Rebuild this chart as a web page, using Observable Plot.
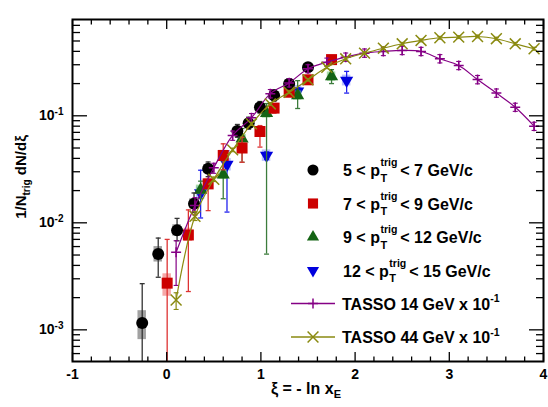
<!DOCTYPE html>
<html><head><meta charset="utf-8">
<script src="https://cdn.jsdelivr.net/npm/d3@7"></script>
<script src="https://cdn.jsdelivr.net/npm/@observablehq/plot@0.6"></script>
<style>
body{margin:0;background:#fff;}
#chart{width:548px;height:407px;}
svg{font-family:"Liberation Sans",Arial,Helvetica,sans-serif;font-weight:bold;}
</style></head><body><div id="chart"></div>
<script>
// ---------- data ----------
const xiBlack = [-0.26, -0.09, 0.11, 0.29, 0.44, 0.75, 0.87, 0.99, 1.14, 1.30, 1.50];
const valBlack = [0.00116, 0.0051, 0.0085, 0.0151, 0.032, 0.072, 0.085, 0.12, 0.155, 0.199, 0.284];
const statLoBlack = [0.0001, 0.0031, 0.0068, 0.0125, 0.027, 0.063, 0.075, 0.106, 0.137, 0.18, 0.26];
const statHiBlack = [0.0027, 0.0072, 0.011, 0.019, 0.037, 0.083, 0.097, 0.136, 0.175, 0.22, 0.31];
const sysLoBlack = [0.00081, 0.0043, 0.0075, 0.0135, 0.029, 0.066, 0.078, 0.11, 0.142, 0.183, 0.262];
const sysHiBlack = [0.00151, 0.0060, 0.0096, 0.0168, 0.035, 0.078, 0.092, 0.13, 0.168, 0.215, 0.306];

const xiRed = [0.005, 0.23, 0.44, 0.60, 0.80, 0.99, 1.14, 1.30, 1.50, 1.75];
const valRed = [0.00273, 0.0077, 0.0231, 0.0426, 0.050, 0.0713, 0.118, 0.166, 0.217, 0.335];
const statLoRed = [0.0001, 0.00228, 0.013, 0.0313, 0.0368, 0.051, 0.106, 0.153, 0.203, 0.315];
const statHiRed = [0.0070, 0.0132, 0.033, 0.0547, 0.063, 0.081, 0.13, 0.18, 0.232, 0.356];
const sysLoRed = [0.00206, 0.0067, 0.0205, 0.038, 0.045, 0.064, 0.107, 0.15, 0.197, 0.305];
const sysHiRed = [0.00334, 0.0089, 0.026, 0.0475, 0.056, 0.079, 0.13, 0.183, 0.238, 0.368];

const xiGreen = [0.36, 0.60, 0.80, 1.06, 1.39, 1.75];
const valGreen = [0.0203, 0.0282, 0.061, 0.106, 0.155, 0.233];
const statLoGreen = [0.0168, 0.0168, 0.0368, 0.0051, 0.117, 0.20];
const statHiGreen = [0.0245, 0.038, 0.076, 0.13, 0.213, 0.27];
const sysLoGreen = [0.0183, 0.0254, 0.055, 0.095, 0.14, 0.21];
const sysHiGreen = [0.0225, 0.0312, 0.067, 0.117, 0.171, 0.257];

const xiBlue = [0.36, 0.64, 1.06, 1.39, 1.91];
const valBlue = [0.019, 0.035, 0.0426, 0.169, 0.214];
const statLoBlue = [0.0111, 0.0126, 0.039, 0.155, 0.163];
const statHiBlue = [0.031, 0.047, 0.046, 0.183, 0.26];
const sysLoBlue = [0.0166, 0.0305, 0.0375, 0.148, 0.19];
const sysHiBlue = [0.0216, 0.0398, 0.048, 0.192, 0.24];

const tassoXi = [0.1, 0.3, 0.5, 0.7, 0.9, 1.1, 1.3, 1.5, 1.7, 1.9, 2.1, 2.3, 2.5, 2.7, 2.9, 3.1, 3.3, 3.5, 3.7, 3.9];
const tasso14 = [0.0053, 0.0145, 0.0327, 0.0655, 0.0958, 0.161, 0.203, 0.275, 0.317, 0.353, 0.385, 0.399, 0.408, 0.399, 0.341, 0.295, 0.218, 0.163, 0.120, 0.080];
const tasso14Lo = [0.0026, 0.0118, 0.029, 0.059, 0.087, 0.147, 0.186, 0.252, 0.290, 0.323, 0.352, 0.365, 0.373, 0.365, 0.312, 0.270, 0.199, 0.149, 0.110, 0.073];
const tasso14Hi = [0.0068, 0.0172, 0.036, 0.072, 0.105, 0.176, 0.222, 0.300, 0.346, 0.386, 0.421, 0.436, 0.446, 0.436, 0.373, 0.322, 0.238, 0.178, 0.131, 0.087];
const tasso44 = [0.0019, 0.0115, 0.0255, 0.048, 0.084, 0.129, 0.166, 0.217, 0.284, 0.341, 0.385, 0.428, 0.471, 0.506, 0.536, 0.543, 0.551, 0.525, 0.471, 0.423];
const tasso44Lo = [0.00155, 0.0105, 0.0243, 0.0462, 0.0812, 0.125, 0.161, 0.211, 0.276, 0.331, 0.374, 0.416, 0.457, 0.491, 0.520, 0.527, 0.535, 0.509, 0.457, 0.410];
const tasso44Hi = [0.00222, 0.0127, 0.0268, 0.0498, 0.0868, 0.133, 0.171, 0.223, 0.292, 0.351, 0.396, 0.440, 0.485, 0.521, 0.552, 0.559, 0.567, 0.541, 0.485, 0.436];

const legendBins = [["5", "7"], ["7", "9"], ["9", "12"], ["12", "15"]];
const legendTasso = ["TASSO 14 GeV x 10", "TASSO 44 GeV x 10"];
const xTickValues = [-1, 0, 1, 2, 3, 4];
const yTickValues = [1e-3, 1e-2, 1e-1];
const xDomain = [-1, 4];
const yDomain = [5.06e-4, 0.794];

// ---------- styles ----------
const C = {
  black: {fill: "#000000", err: "#333333", sys: "rgba(110,110,110,0.65)", symbol: "circle", r: 6, rotate: 0},
  red:   {fill: "#cc0000", err: "#dd3333", sys: "rgba(240,110,110,0.6)", symbol: "square", r: 6.2, rotate: 0},
  green: {fill: "#146414", err: "#3c7c3c", sys: "rgba(110,200,110,0.6)", symbol: "triangle", r: 4.9, rotate: 0},
  blue:  {fill: "#0000dd", err: "#2222ee", sys: "rgba(130,140,255,0.55)", symbol: "triangle", r: 4.9, rotate: 180}
};
const purple = "#850085", olive = "#8a8a10";

const rows = (xs, ys, lo, hi, slo, shi) => xs.map((x, i) => ({x, y: ys[i], lo: lo[i], hi: hi[i], slo: slo ? slo[i] : null, shi: shi ? shi[i] : null}));
const sBlack = rows(xiBlack, valBlack, statLoBlack, statHiBlack, sysLoBlack, sysHiBlack);
const sRed = rows(xiRed, valRed, statLoRed, statHiRed, sysLoRed, sysHiRed);
const sGreen = rows(xiGreen, valGreen, statLoGreen, statHiGreen, sysLoGreen, sysHiGreen);
const sBlue = rows(xiBlue, valBlue, statLoBlue, statHiBlue, sysLoBlue, sysHiBlue);
const t14 = rows(tassoXi, tasso14, tasso14Lo, tasso14Hi);
const t44 = rows(tassoXi, tasso44, tasso44Lo, tasso44Hi);

const cap = {draw(ctx) { ctx.moveTo(-2.5, 0); ctx.lineTo(2.5, 0); }};

function seriesMarks(data, st) {
  return [
    Plot.rect(data, {x1: d => d.x - 0.045, x2: d => d.x + 0.045, y1: "slo", y2: "shi", fill: st.sys, clip: true}),
    Plot.ruleX(data, {x: "x", y1: "lo", y2: "hi", stroke: st.err, strokeWidth: 1.3, clip: true}),
    Plot.dot(data, {x: "x", y: "hi", symbol: cap, r: 2, fill: "none", stroke: st.err, strokeWidth: 1.3}),
    Plot.dot(data.filter(d => d.lo >= yDomain[0]), {x: "x", y: "lo", symbol: cap, r: 2, fill: "none", stroke: st.err, strokeWidth: 1.3}),
    Plot.dot(data, {x: "x", y: "y", symbol: st.symbol, r: st.r, rotate: st.rotate, fill: st.fill, stroke: "none"})
  ];
}
function tassoMarks(data, color, symbol, r) {
  return [
    Plot.line(data, {x: "x", y: "y", stroke: color, strokeWidth: 1.2, curve: "catmull-rom"}),
    Plot.ruleX(data, {x: "x", y1: "lo", y2: "hi", stroke: color, strokeWidth: 1.2}),
    Plot.dot(data, {x: "x", y: "hi", symbol: cap, r: 2, fill: "none", stroke: color, strokeWidth: 1.1}),
    Plot.dot(data, {x: "x", y: "lo", symbol: cap, r: 2, fill: "none", stroke: color, strokeWidth: 1.1}),
    Plot.dot(data, {x: "x", y: "y", symbol, r, fill: "none", stroke: color, strokeWidth: 1.5})
  ];
}

const xMinor = d3.range(-10, 41, 2).map(v => v / 10).filter(v => !Number.isInteger(v));
const yMinor = [];
for (let k = -4; k <= -1; k++) for (let m = 2; m <= 9; m++) { const v = m * 10 ** k; if (v >= yDomain[0] && v <= yDomain[1]) yMinor.push(v); }
const none = () => "";

const chart = Plot.plot({
  width: 548, height: 407,
  marginLeft: 72, marginRight: 5, marginTop: 19, marginBottom: 46,
  style: {fontFamily: "Liberation Sans, Arial, sans-serif", fontWeight: "bold", background: "#fff", color: "#000"},
  x: {domain: xDomain, label: null},
  y: {type: "log", domain: yDomain, label: null},
  marks: [
    ...seriesMarks(sBlue, C.blue),
    ...seriesMarks(sGreen, C.green),
    ...seriesMarks(sRed, C.red),
    ...seriesMarks(sBlack, C.black),
    ...tassoMarks(t14, purple, "plus", 3.3),
    ...tassoMarks(t44, olive, "times", 5),
    Plot.axisX({anchor: "bottom", ticks: xTickValues, tickSize: -9, tickFormat: none, strokeWidth: 1.3, label: null}),
    Plot.axisX({anchor: "bottom", ticks: xMinor, tickSize: -4.5, tickFormat: none, strokeWidth: 1.3, label: null}),
    Plot.axisX({anchor: "top", ticks: xTickValues, tickSize: -9, tickFormat: none, strokeWidth: 1.3, label: null}),
    Plot.axisX({anchor: "top", ticks: xMinor, tickSize: -4.5, tickFormat: none, strokeWidth: 1.3, label: null}),
    Plot.axisY({anchor: "left", ticks: yTickValues, tickSize: -15, tickFormat: none, strokeWidth: 1.3, label: null}),
    Plot.axisY({anchor: "left", ticks: yMinor, tickSize: -8, tickFormat: none, strokeWidth: 1.3, label: null}),
    Plot.axisY({anchor: "right", ticks: yTickValues, tickSize: -15, tickFormat: none, strokeWidth: 1.3, label: null}),
    Plot.axisY({anchor: "right", ticks: yMinor, tickSize: -8, tickFormat: none, strokeWidth: 1.3, label: null}),
    Plot.axisX({anchor: "bottom", ticks: xTickValues, tickSize: 0, tickPadding: 8, fontSize: 14, fontWeight: "bold", label: null, tickFormat: d => String(d)}),
    Plot.axisY({anchor: "left", ticks: yTickValues, tickSize: 0, tickPadding: 9, fontSize: 14, fontWeight: "bold", label: null, tickFormat: d => "10^" + Math.round(Math.log10(d))}),
    Plot.frame({stroke: "#000", strokeWidth: 2})
  ]
});
document.getElementById("chart").appendChild(chart);

const svg = d3.select(chart);
// superscript tick labels
svg.selectAll("text").each(function() {
  const t = this.textContent;
  const m = /^10\^(-?\d+)$/.exec(t);
  if (m) {
    const sel = d3.select(this);
    sel.selectAll("*").remove();
    sel.text(null);
    sel.append("tspan").text("10");
    sel.append("tspan").attr("font-size", 10).attr("dy", "-0.55em").text(m[1]);
  }
});

const FONT = "Liberation Sans, Arial, sans-serif";
// axis titles
const xt = svg.append("text").attr("x", 306).attr("y", 394).attr("text-anchor", "middle")
  .attr("font-family", FONT).attr("font-weight", "bold").attr("font-size", 16).attr("fill", "#000");
xt.append("tspan").text("ξ = - ln x");
xt.append("tspan").attr("font-size", 11).attr("dy", 4).text("E");

const yt = svg.append("text").attr("transform", "translate(26,177) rotate(-90)").attr("text-anchor", "middle")
  .attr("font-family", FONT).attr("font-weight", "bold").attr("font-size", 15).attr("fill", "#000");
yt.append("tspan").text("1/N");
yt.append("tspan").attr("font-size", 10).attr("dy", 4).text("trig");
yt.append("tspan").attr("dy", -4).text(" dN/dξ");

// legend
const lg = svg.append("g").attr("font-family", FONT).attr("font-weight", "bold").attr("fill", "#000").attr("text-anchor", "start");
const rowY = [170, 203.5, 237, 270.5, 303.5, 337];
const legStyles = [C.black, C.red, C.green, C.blue];
const markerX = 313;
const LF = 16;
legStyles.forEach((st, i) => {
  const y = rowY[i];
  const sym = d3.symbol(st.symbol === "circle" ? d3.symbolCircle : st.symbol === "square" ? d3.symbolSquare : d3.symbolTriangle, Math.PI * st.r * st.r * 0.85)();
  lg.append("path").attr("d", sym).attr("fill", st.fill).attr("transform", `translate(${markerX},${y}) rotate(${st.rotate})`);
  const base = y + 6;
  const t1 = lg.append("text").attr("x", 343).attr("y", base).attr("font-size", LF).text(`${legendBins[i][0]} < p`);
  const w1 = t1.node().getComputedTextLength();
  const sx = 343 + w1 + 0.5;
  const sup = lg.append("text").attr("x", sx).attr("y", base - 10).attr("font-size", 10.5).text("trig");
  lg.append("text").attr("x", sx).attr("y", base + 5.5).attr("font-size", 11).text("T");
  const ws = sup.node().getComputedTextLength();
  lg.append("text").attr("x", sx + ws + 3).attr("y", base).attr("font-size", LF).text(`< ${legendBins[i][1]} GeV/c`);
});
[[purple, d3.symbolPlus, 3.3], [olive, d3.symbolTimes, 5]].forEach(([col, s, r], j) => {
  const y = rowY[4 + j];
  lg.append("line").attr("x1", 291).attr("x2", 335).attr("y1", y).attr("y2", y).attr("stroke", col).attr("stroke-width", 1.3);
  lg.append("path").attr("d", d3.symbol(s, Math.PI * r * r)()).attr("transform", `translate(${markerX},${y})`).attr("fill", "none").attr("stroke", col).attr("stroke-width", 1.5);
  const t = lg.append("text").attr("x", 342).attr("y", y + 6).attr("font-size", LF);
  t.append("tspan").text(legendTasso[j]);
  t.append("tspan").attr("font-size", 10.5).attr("dy", -7.5).text("-1");
});
</script></body></html>
